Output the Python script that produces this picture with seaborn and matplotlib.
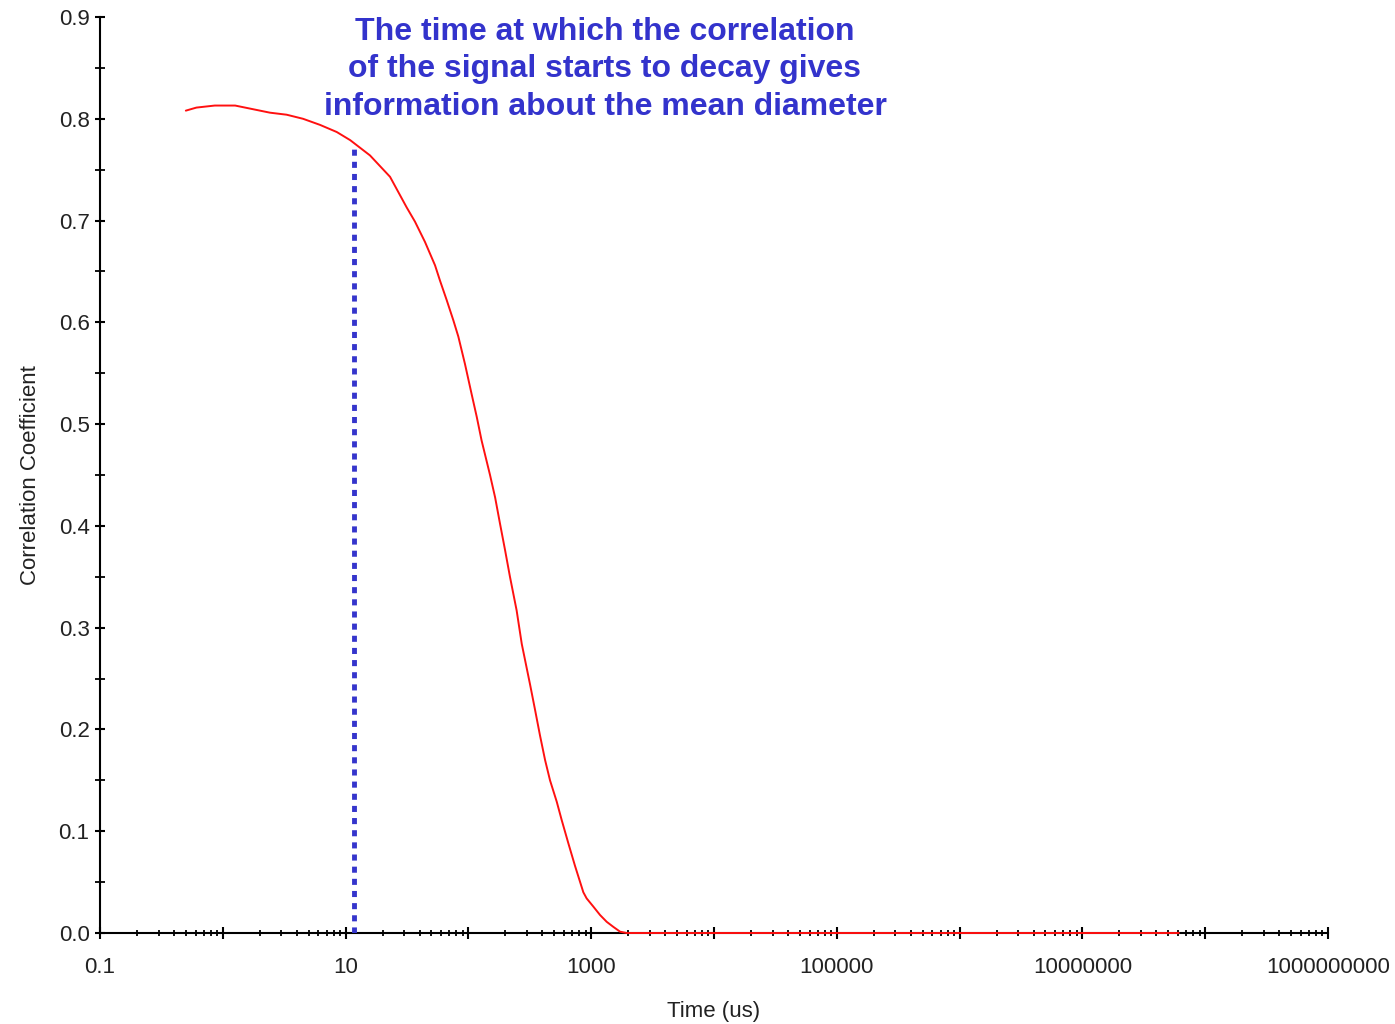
import numpy as np
import pandas as pd
import matplotlib
matplotlib.use("Agg")
import matplotlib.pyplot as plt
import matplotlib.ticker as mticker
import seaborn as sns

# Correlation function of the measured signal
time_us = [0.50, 0.61, 0.86, 1.26, 1.83, 2.42, 3.31, 4.50, 6.19, 8.47, 10.9,
           15.8, 23.0, 31.4, 36.7, 44.3, 53.5, 58.7, 66.5, 75.4, 82.8, 93.8,
           106, 117, 128, 150, 165, 181, 199, 218, 247, 272, 318, 348, 383,
           421, 462, 524, 575, 652, 738, 863, 918, 1040, 1180, 1337, 1515,
           1718, 1945, 3000, 1.0e4, 1.0e5, 1.0e6, 1.0e7, 6.1e7]
correlation = [0.808, 0.811, 0.813, 0.813, 0.809, 0.806, 0.804, 0.800, 0.794,
               0.787, 0.779, 0.764, 0.743, 0.713, 0.699, 0.679, 0.656, 0.641,
               0.622, 0.602, 0.586, 0.559, 0.530, 0.507, 0.484, 0.450, 0.428,
               0.402, 0.376, 0.350, 0.317, 0.284, 0.244, 0.220, 0.194, 0.170,
               0.150, 0.129, 0.111, 0.088, 0.066, 0.040, 0.034, 0.026, 0.0177,
               0.011, 0.006, 0.0013, 0.0, 0.0, 0.0, 0.0, 0.0, 0.0, 0.0]

# Onset of the decay
decay_time = 11.7
decay_value = 0.77

x_tick_values = [1e-1, 1e0, 1e1, 1e2, 1e3, 1e4, 1e5, 1e6, 1e7, 1e8, 1e9]
x_tick_labels = ["0.1", "", "10", "", "1000", "", "100000", "", "10000000",
                 "", "1000000000"]
y_tick_values = [0.0, 0.1, 0.2, 0.3, 0.4, 0.5, 0.6, 0.7, 0.8, 0.9]

note = ("The time at which the correlation\n"
        "of the signal starts to decay gives\n"
        "information about the mean diameter")

sns.set_style("ticks")
plt.rcParams["font.family"] = ["Liberation Sans", "DejaVu Sans"]

df = pd.DataFrame({"Time (us)": time_us, "Correlation Coefficient": correlation})

fig = plt.figure(figsize=(13.95, 10.24), dpi=100)
ax = fig.add_axes([100 / 1395, 1 - 933 / 1024, 1228 / 1395, 916 / 1024])

sns.lineplot(data=df, x="Time (us)", y="Correlation Coefficient", ax=ax,
             color="#ff1010", linewidth=1.4, estimator=None, sort=True,
             zorder=3, clip_on=False)

ax.vlines(decay_time, 0, decay_value, colors="#3535cc", linewidth=3.5,
          linestyles=(0, (1.25, 1.25)), zorder=4)

ax.set_xscale("log")
ax.set_xlim(1e-1, 1e9)
ax.set_ylim(0, 0.9)

ax.xaxis.set_major_locator(mticker.FixedLocator(x_tick_values))
ax.xaxis.set_major_formatter(mticker.FixedFormatter(x_tick_labels))
ax.xaxis.set_minor_locator(mticker.LogLocator(base=10, subs=np.arange(2, 10), numticks=100))
ax.xaxis.set_minor_formatter(mticker.NullFormatter())

ax.yaxis.set_major_locator(mticker.FixedLocator(y_tick_values))
ax.yaxis.set_major_formatter(mticker.FormatStrFormatter("%.1f"))
ax.yaxis.set_minor_locator(mticker.MultipleLocator(0.05))

for side in ("top", "right"):
    ax.spines[side].set_visible(False)
for side in ("left", "bottom"):
    ax.spines[side].set_linewidth(1.5)
    ax.spines[side].set_color("black")

ax.tick_params(axis="x", which="major", direction="inout", length=8, width=1.5,
               pad=13, labelsize=16, colors="black", labelcolor="#222222")
ax.tick_params(axis="x", which="minor", direction="inout", length=4.5, width=1.3,
               colors="black")
ax.tick_params(axis="y", which="major", direction="inout", length=7, width=1.5,
               pad=4, labelsize=16, colors="black", labelcolor="#222222")
ax.tick_params(axis="y", which="minor", direction="inout", length=7, width=1.3,
               colors="black")

ax.set_xlabel("Time (us)", fontsize=16, color="#222222", labelpad=17)
ax.set_ylabel("Correlation Coefficient", fontsize=16, color="#222222", labelpad=13)

fig.text(605 / 1395, 1 - 69.5 / 1024, note, ha="center", va="center",
         multialignment="center", fontsize=23, fontweight="bold",
         color="#3333cc", linespacing=1.33)

fig.savefig("out.png", dpi=100, facecolor="white")
